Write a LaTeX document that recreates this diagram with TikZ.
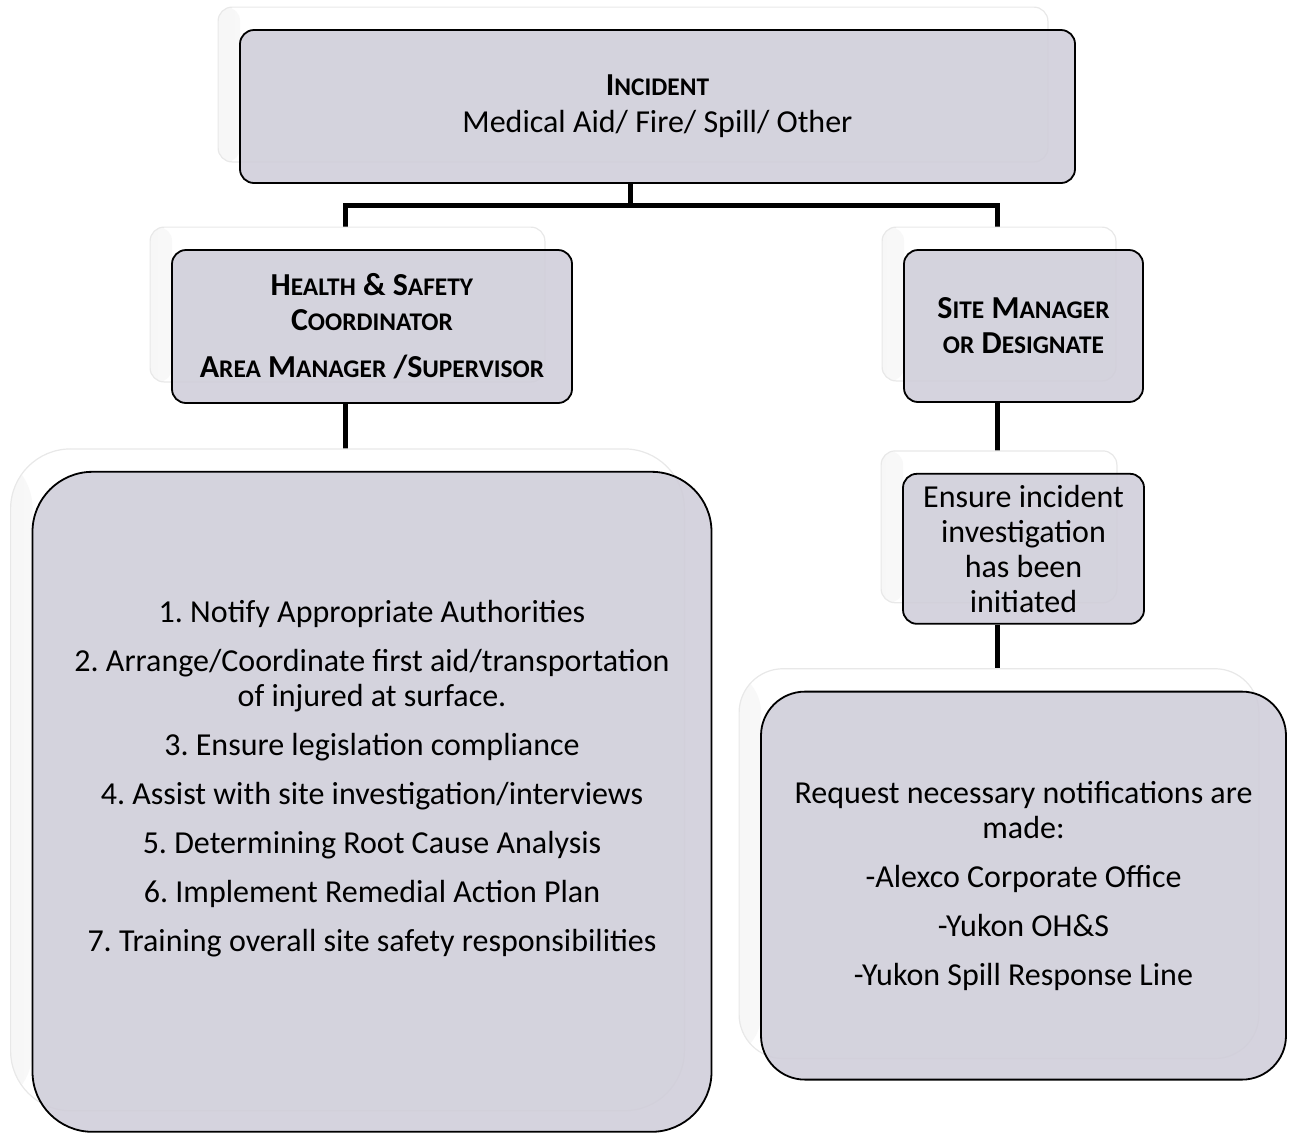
\documentclass[tikz,border=0pt]{standalone}
\usepackage{fontspec}
\setmainfont{Carlito}
\usetikzlibrary{positioning,calc}
\pgfdeclarelayer{links}
\pgfdeclarelayer{cards}
\pgfsetlayers{links,cards,main}
\frenchspacing

\definecolor{boxgray}{RGB}{207,205,217}
% fake small caps: big first letter, rest in smaller capitals
\newcommand{\sck}[2]{#1{\fontsize{12.7pt}{13pt}\selectfont #2}}

\tikzset{
  box/.style={draw=black, line width=0.9pt, fill=boxgray, fill opacity=0.88,
    text opacity=1, rounded corners=7pt, align=center, inner sep=2pt,
    font=\fontsize{16pt}{17.5pt}\selectfont},
  backcard/.style={fill=white, draw=black!9, line width=0.6pt,
    path picture={\shade[left color=black!3, middle color=black!11, right color=white]
      (path picture bounding box.south west) rectangle
      ([xshift=11pt]path picture bounding box.north west);}},
  link/.style={line width=2.5pt, black}
}

\begin{document}
\begin{tikzpicture}[x=0.5pt, y=-0.5pt]
  \useasboundingbox (0,0) rectangle (1290,1132);

  \node[box, minimum width=417.5pt, minimum height=76.5pt] (top) at (657.5,106.5)
    {\textbf{\sck{I}{NCIDENT}}\\[1pt] Medical Aid/ Fire/ Spill/ Other};
  \node[box, minimum width=200pt, minimum height=76.5pt] (hs) at (372,326.5)
    {\textbf{\sck{H}{EALTH} \& \sck{S}{AFETY}}\\
     \textbf{\sck{C}{OORDINATOR}}\\[6pt]
     \textbf{\sck{A}{REA} \sck{M}{ANAGER} /\sck{S}{UPERVISOR}}};
  \node[box, minimum width=119.5pt, minimum height=76pt] (site) at (1023.5,326)
    {\textbf{\sck{S}{ITE} \sck{M}{ANAGER}}\\ \textbf{\sck{}{OR} \sck{D}{ESIGNATE}}};
  \node[box, minimum width=120.5pt, minimum height=75pt] (ensure) [below=35pt of site]
    {Ensure incident\\ investigation\\ has been\\ initiated};
  \node[box, rounded corners=30pt, minimum width=339.5pt, minimum height=330pt] (acts) [below=33.5pt of hs]
    {1. Notify Appropriate Authorities\\[7pt]
     2. Arrange/Coordinate first aid/transportation\\ of injured at surface.\\[7pt]
     3. Ensure legislation compliance\\[7pt]
     4. Assist with site investigation/interviews\\[7pt]
     5. Determining Root Cause Analysis\\[7pt]
     6. Implement Remedial Action Plan\\[7pt]
     7. Training overall site safety responsibilities\\[8pt]};
  \node[box, rounded corners=22pt, minimum width=262.5pt, minimum height=194pt] (notify) [below=33pt of ensure]
    {Request necessary notifications are\\ made:\\[7pt]
     -Alexco Corporate Office\\[7pt]
     -Yukon OH\&S\\[7pt]
     -Yukon Spill Response Line};

  % white cards sitting behind each box
  \begin{pgfonlayer}{cards}
    \foreach \n/\r in {top/7pt, hs/7pt, site/7pt, ensure/7pt, acts/30pt, notify/22pt}
      \draw[backcard, rounded corners=\r] ($(\n.south west)+(-21,-22)$) rectangle ($(\n.north east)+(-28,-22)$);
  \end{pgfonlayer}

  \begin{pgfonlayer}{links}
    \draw[link] ([xshift=-13.5pt]top.south) -- ++(0,22) coordinate (bus);
    \draw[link] ([xshift=-13.5pt]hs.north) |- (bus) -| ([xshift=-13pt]site.north);
    \draw[link] ([xshift=-13.5pt]hs.south) -- ([xshift=-13.5pt]hs.south |- acts.north);
    \draw[link] ([xshift=-13pt]site.south) -- ([xshift=-13pt]site.south |- ensure.north);
    \draw[link] ([xshift=-13pt]ensure.south) -- ([xshift=-13pt]ensure.south |- notify.north);
  \end{pgfonlayer}
\end{tikzpicture}
\end{document}
